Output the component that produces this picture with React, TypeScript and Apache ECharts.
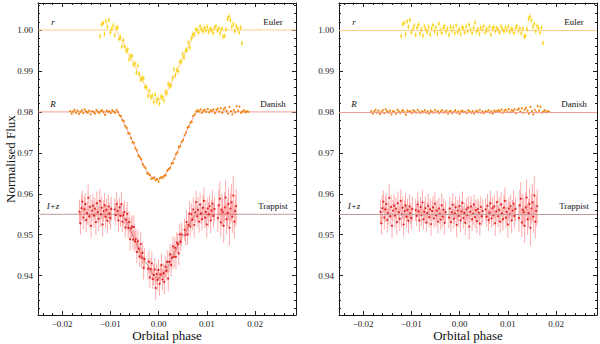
import React, { useEffect, useRef } from "react";
import * as echarts from "echarts";

// ---------- axis ranges ----------
const X_MIN = -0.025;
const X_MAX = 0.0285;
const Y_MIN = 0.9304;
const Y_MAX = 1.0066;

// ---------- Euler (r band) ----------
const eulerPhase = [-0.0121,-0.0118,-0.0115,-0.0112,-0.0109,-0.0106,-0.0103,-0.0100,-0.0097,-0.0094,-0.0091,-0.0088,-0.0085,-0.0082,-0.0079,-0.0076,-0.0073,-0.0070,-0.0067,-0.0064,-0.0061,-0.0058,-0.0055,-0.0052,-0.0049,-0.0046,-0.0043,-0.0040,-0.0037,-0.0034,-0.0031,-0.0028,-0.0025,-0.0022,-0.0019,-0.0016,-0.0013,-0.0010,-0.0007,-0.0004,-0.0001,0.0002,0.0005,0.0008,0.0011,0.0014,0.0017,0.0020,0.0023,0.0026,0.0029,0.0032,0.0035,0.0038,0.0041,0.0044,0.0047,0.0050,0.0053,0.0056,0.0059,0.0062,0.0065,0.0068,0.0071,0.0074,0.0077,0.0080,0.0083,0.0086,0.0089,0.0092,0.0095,0.0098,0.0101,0.0104,0.0107,0.0110,0.0113,0.0116,0.0119,0.0122,0.0125,0.0128,0.0131,0.0134,0.0137,0.0140,0.0143,0.0146,0.0149,0.0152,0.0155,0.0158,0.0161,0.0164,0.0167,0.0170,0.0173];
const eulerFlux = [0.9985,1.0014,1.0017,0.9990,1.0021,1.0008,1.0024,0.9994,1.0003,1.0011,0.9988,1.0005,1.0006,0.9978,0.9982,0.9959,0.9975,0.9960,0.9948,0.9953,0.9928,0.9936,0.9937,0.9916,0.9918,0.9896,0.9913,0.9892,0.9878,0.9883,0.9881,0.9860,0.9861,0.9839,0.9852,0.9835,0.9840,0.9824,0.9842,0.9825,0.9832,0.9820,0.9838,0.9836,0.9828,0.9850,0.9845,0.9869,0.9864,0.9864,0.9883,0.9904,0.9889,0.9903,0.9899,0.9922,0.9923,0.9941,0.9932,0.9949,0.9951,0.9969,0.9957,0.9980,0.9990,0.9988,1.0001,1.0001,0.9994,1.0009,1.0002,0.9996,1.0006,0.9999,1.0008,0.9995,1.0003,1.0000,0.9993,1.0005,1.0010,0.9998,1.0004,0.9992,1.0003,0.9984,0.9986,1.0002,1.0027,1.0033,1.0024,1.0008,1.0015,0.9997,1.0010,1.0004,0.9994,1.0006,0.9968];
const eulerResid = [0.9985,1.0014,1.0017,0.9990,1.0021,1.0008,1.0024,0.9994,1.0003,1.0011,0.9988,1.0005,1.0013,0.9992,1.0002,0.9986,1.0009,1.0001,0.9995,1.0007,0.9989,1.0004,1.0012,0.9997,1.0006,0.9991,1.0015,1.0000,0.9993,1.0005,1.0010,0.9996,1.0003,0.9988,1.0008,0.9998,1.0006,0.9992,1.0011,0.9995,1.0002,0.9990,1.0007,1.0004,0.9994,1.0009,0.9997,1.0013,1.0001,0.9993,1.0005,1.0018,0.9996,1.0002,0.9991,1.0006,1.0000,1.0010,0.9994,1.0003,0.9998,1.0008,0.9989,1.0004,1.0007,0.9997,1.0005,1.0001,0.9994,1.0009,1.0002,0.9996,1.0006,0.9999,1.0008,0.9995,1.0003,1.0000,0.9993,1.0005,1.0010,0.9998,1.0004,0.9992,1.0003,0.9984,0.9986,1.0002,1.0027,1.0033,1.0024,1.0008,1.0015,0.9997,1.0010,1.0004,0.9994,1.0006,0.9968];
const eulerErr = 0.0007;
const eulerModelPhase = [X_MIN,-0.0088,-0.0073,-0.0058,-0.0043,-0.0028,-0.0016,-0.0010,-0.0001,0.0008,0.0014,0.0029,0.0044,0.0059,0.0071,0.0077,0.0080,X_MAX];
const eulerModelFlux = [1.0,1.0,0.9966,0.9932,0.9898,0.9864,0.9837,0.9832,0.9830,0.9832,0.9841,0.9878,0.9916,0.9953,0.9983,0.9996,1.0,1.0];
const eulerBase = 1.0;

// ---------- Danish (R band) ----------
const danishPhase = [-0.0183,-0.0180,-0.0177,-0.0174,-0.0171,-0.0168,-0.0165,-0.0162,-0.0159,-0.0156,-0.0153,-0.0150,-0.0147,-0.0144,-0.0141,-0.0138,-0.0135,-0.0132,-0.0129,-0.0126,-0.0123,-0.0120,-0.0117,-0.0114,-0.0111,-0.0108,-0.0105,-0.0102,-0.0099,-0.0096,-0.0093,-0.0090,-0.0087,-0.0084,-0.0081,-0.0078,-0.0075,-0.0072,-0.0069,-0.0066,-0.0063,-0.0060,-0.0057,-0.0054,-0.0051,-0.0048,-0.0045,-0.0042,-0.0039,-0.0036,-0.0033,-0.0030,-0.0027,-0.0024,-0.0021,-0.0018,-0.0015,-0.0012,-0.0009,-0.0006,-0.0003,0.0000,0.0003,0.0006,0.0009,0.0012,0.0015,0.0018,0.0021,0.0024,0.0027,0.0030,0.0033,0.0036,0.0039,0.0042,0.0045,0.0048,0.0051,0.0054,0.0057,0.0060,0.0063,0.0066,0.0069,0.0072,0.0075,0.0078,0.0081,0.0084,0.0087,0.0090,0.0093,0.0096,0.0099,0.0102,0.0105,0.0108,0.0111,0.0114,0.0117,0.0120,0.0123,0.0126,0.0129,0.0132,0.0135,0.0138,0.0141,0.0144,0.0147,0.0150,0.0153,0.0156,0.0159,0.0162,0.0165,0.0168,0.0171,0.0174,0.0177,0.0180,0.0183,0.0186];
const danishFlux = [0.9802,0.9796,0.9801,0.9805,0.9798,0.9803,0.9795,0.9800,0.9804,0.9797,0.9806,0.9801,0.9798,0.9803,0.9794,0.9802,0.9800,0.9796,0.9805,0.9801,0.9797,0.9802,0.9804,0.9799,0.9793,0.9803,0.9800,0.9802,0.9797,0.9804,0.9801,0.9798,0.9805,0.9800,0.9792,0.9790,0.9780,0.9778,0.9765,0.9761,0.9748,0.9747,0.9736,0.9726,0.9725,0.9711,0.9706,0.9693,0.9690,0.9685,0.9672,0.9667,0.9663,0.9650,0.9649,0.9646,0.9637,0.9638,0.9640,0.9633,0.9636,0.9630,0.9638,0.9641,0.9639,0.9644,0.9645,0.9657,0.9660,0.9663,0.9674,0.9675,0.9686,0.9697,0.9701,0.9715,0.9716,0.9727,0.9731,0.9744,0.9750,0.9762,0.9764,0.9774,0.9776,0.9790,0.9794,0.9801,0.9804,0.9801,0.9806,0.9798,0.9803,0.9805,0.9800,0.9807,0.9799,0.9804,0.9802,0.9806,0.9797,0.9805,0.9808,0.9801,0.9809,0.9798,0.9806,0.9810,0.9803,0.9796,0.9812,0.9802,0.9794,0.9805,0.9799,0.9814,0.9803,0.9813,0.9798,0.9801,0.9804,0.9799,0.9802,0.9800];
const danishResid = [0.9802,0.9796,0.9801,0.9805,0.9798,0.9803,0.9795,0.9800,0.9804,0.9797,0.9806,0.9801,0.9798,0.9803,0.9794,0.9802,0.9800,0.9796,0.9805,0.9801,0.9797,0.9802,0.9804,0.9799,0.9793,0.9803,0.9800,0.9802,0.9797,0.9804,0.9801,0.9798,0.9805,0.9800,0.9797,0.9802,0.9799,0.9804,0.9798,0.9801,0.9796,0.9803,0.9800,0.9798,0.9805,0.9799,0.9802,0.9797,0.9801,0.9804,0.9798,0.9800,0.9803,0.9796,0.9801,0.9802,0.9797,0.9800,0.9804,0.9798,0.9801,0.9795,0.9802,0.9803,0.9799,0.9800,0.9797,0.9804,0.9801,0.9798,0.9802,0.9796,0.9800,0.9803,0.9799,0.9805,0.9798,0.9801,0.9797,0.9802,0.9800,0.9804,0.9798,0.9801,0.9796,0.9803,0.9800,0.9802,0.9804,0.9801,0.9806,0.9798,0.9803,0.9805,0.9800,0.9807,0.9799,0.9804,0.9802,0.9806,0.9797,0.9805,0.9808,0.9801,0.9809,0.9798,0.9806,0.9810,0.9803,0.9796,0.9812,0.9802,0.9794,0.9805,0.9799,0.9814,0.9803,0.9813,0.9798,0.9801,0.9804,0.9799,0.9802,0.9800];
const danishErr = 0.00025;
const danishModelPhase = [X_MIN,-0.0084,-0.0075,-0.0060,-0.0045,-0.0030,-0.0018,-0.0009,0.0000,0.0012,0.0024,0.0039,0.0051,0.0066,0.0075,0.0081,X_MAX];
const danishModelFlux = [0.98,0.98,0.9781,0.9744,0.9704,0.9667,0.9644,0.9636,0.9635,0.9644,0.9665,0.9702,0.9734,0.9773,0.9794,0.98,0.98];
const danishBase = 0.98;

// ---------- Trappist (I+z band) ----------
const trappistPhase = [-0.0164,-0.0162,-0.0160,-0.0158,-0.0156,-0.0154,-0.0152,-0.0150,-0.0148,-0.0146,-0.0144,-0.0142,-0.0140,-0.0138,-0.0136,-0.0134,-0.0132,-0.0130,-0.0128,-0.0126,-0.0124,-0.0122,-0.0120,-0.0118,-0.0116,-0.0114,-0.0112,-0.0110,-0.0108,-0.0106,-0.0104,-0.0102,-0.0100,-0.0098,
-0.0091,-0.0089,-0.0087,-0.0085,-0.0083,-0.0081,-0.0079,-0.0077,-0.0075,-0.0073,-0.0071,-0.0069,-0.0067,-0.0065,-0.0063,-0.0061,-0.0059,-0.0057,-0.0055,-0.0053,-0.0051,-0.0049,-0.0047,-0.0045,-0.0043,-0.0041,-0.0039,-0.0037,-0.0035,-0.0033,-0.0031,-0.0029,
-0.0022,-0.0020,-0.0018,-0.0016,-0.0014,-0.0012,-0.0010,-0.0008,-0.0006,-0.0004,-0.0002,0.0000,0.0002,0.0004,0.0006,0.0008,0.0010,0.0012,0.0014,0.0016,0.0018,0.0020,0.0022,0.0024,0.0026,0.0028,0.0030,0.0032,0.0034,0.0036,0.0038,0.0040,0.0042,0.0044,0.0046,0.0048,
0.0054,0.0056,0.0058,0.0060,0.0062,0.0064,0.0066,0.0068,0.0070,0.0072,0.0074,0.0076,0.0078,0.0080,0.0082,0.0084,0.0086,0.0088,0.0090,0.0092,0.0094,0.0096,0.0098,0.0100,0.0102,0.0104,0.0106,0.0108,0.0110,0.0112,0.0114,0.0116,
0.0123,0.0125,0.0127,0.0129,0.0131,0.0133,0.0135,0.0137,0.0139,0.0141,0.0143,0.0145,0.0147,0.0149,0.0151,0.0153,0.0155,0.0157,0.0159,0.0161];
const trappistFlux = [0.9556,0.9528,0.9565,0.9581,0.9542,0.9562,0.9575,0.9536,0.9553,0.9590,0.9545,0.9568,0.9522,0.9559,0.9571,0.9547,0.9564,0.9531,0.9577,0.9555,0.9539,0.9583,0.9550,0.9566,0.9525,0.9558,0.9572,0.9544,0.9561,0.9534,0.9569,0.9552,0.9541,0.9563,
0.9562,0.9548,0.9575,0.9558,0.9535,0.9567,0.9546,0.9575,0.9532,0.9548,0.9555,0.9518,0.9537,0.9551,0.9517,0.9531,0.9489,0.9516,0.9520,0.9488,0.9519,0.9484,0.9490,0.9458,0.9484,0.9466,0.9447,0.9477,0.9444,0.9456,0.9419,0.9441,
0.9417,0.9434,0.9396,0.9416,0.9430,0.9392,0.9402,0.9415,0.9370,0.9404,0.9390,0.9414,0.9380,0.9403,0.9426,0.9391,0.9406,0.9385,0.9422,0.9412,0.9434,0.9393,0.9434,0.9452,0.9426,0.9444,0.9472,0.9446,0.9468,0.9446,0.9481,0.9477,0.9455,0.9501,0.9483,0.9501,
0.9512,0.9499,0.9531,0.9501,0.9524,0.9552,0.9520,0.9550,0.9537,0.9562,0.9524,0.9555,0.9580,0.9545,0.9561,0.9532,0.9574,0.9552,0.9538,0.9566,0.9583,0.9542,0.9556,0.9525,0.9564,0.9550,0.9570,0.9535,0.9559,0.9576,0.9546,0.9563,
0.9541,0.9572,0.9588,0.9530,0.9561,0.9555,0.9522,0.9567,0.9591,0.9538,0.9553,0.9575,0.9517,0.9564,0.9579,0.9544,0.9596,0.9532,0.9558,0.9570];
const trappistResid = [0.9556,0.9528,0.9565,0.9581,0.9542,0.9562,0.9575,0.9536,0.9553,0.9590,0.9545,0.9568,0.9522,0.9559,0.9571,0.9547,0.9564,0.9531,0.9577,0.9555,0.9539,0.9583,0.9550,0.9566,0.9525,0.9558,0.9572,0.9544,0.9561,0.9534,0.9569,0.9552,0.9541,0.9563,
0.9560,0.9546,0.9574,0.9557,0.9535,0.9568,0.9548,0.9579,0.9538,0.9556,0.9565,0.9530,0.9553,0.9571,0.9543,0.9562,0.9526,0.9558,0.9567,0.9540,0.9576,0.9547,0.9559,0.9532,0.9564,0.9551,0.9537,0.9572,0.9544,0.9561,0.9529,0.9555,
0.9542,0.9564,0.9531,0.9555,0.9573,0.9539,0.9552,0.9567,0.9524,0.9559,0.9546,0.9570,0.9535,0.9557,0.9578,0.9541,0.9553,0.9529,0.9562,0.9548,0.9566,0.9520,0.9556,0.9569,0.9538,0.9551,0.9574,0.9543,0.9560,0.9533,0.9563,0.9554,0.9527,0.9568,0.9545,0.9558,
0.9562,0.9544,0.9571,0.9536,0.9554,0.9577,0.9540,0.9565,0.9548,0.9569,0.9528,0.9557,0.9580,0.9545,0.9561,0.9532,0.9574,0.9552,0.9538,0.9566,0.9583,0.9542,0.9556,0.9525,0.9564,0.9550,0.9570,0.9535,0.9559,0.9576,0.9546,0.9563,
0.9541,0.9572,0.9588,0.9530,0.9561,0.9555,0.9522,0.9567,0.9591,0.9538,0.9553,0.9575,0.9517,0.9564,0.9579,0.9544,0.9596,0.9532,0.9558,0.9570];
const trappistErr = [0.0030,0.0028,0.0032,0.0027,0.0029,0.0031,0.0026,0.0030,0.0028,0.0033,0.0027,0.0029,0.0031,0.0026,0.0028,0.0030,0.0027,0.0032,0.0029,0.0026,0.0030,0.0028,0.0031,0.0027,0.0029,0.0026,0.0030,0.0028,0.0027,0.0031,0.0029,0.0026,0.0028,0.0030,
0.0027,0.0025,0.0029,0.0026,0.0028,0.0024,0.0027,0.0030,0.0025,0.0026,0.0028,0.0024,0.0027,0.0029,0.0025,0.0026,0.0028,0.0025,0.0027,0.0024,0.0029,0.0026,0.0025,0.0028,0.0027,0.0024,0.0026,0.0029,0.0025,0.0027,0.0028,0.0026,
0.0026,0.0028,0.0025,0.0027,0.0029,0.0024,0.0026,0.0028,0.0030,0.0025,0.0027,0.0026,0.0029,0.0024,0.0028,0.0026,0.0025,0.0030,0.0027,0.0024,0.0028,0.0031,0.0026,0.0025,0.0029,0.0027,0.0024,0.0028,0.0026,0.0030,0.0025,0.0027,0.0029,0.0026,0.0024,0.0028,
0.0027,0.0025,0.0029,0.0026,0.0028,0.0030,0.0024,0.0027,0.0026,0.0029,0.0031,0.0025,0.0028,0.0026,0.0030,0.0027,0.0029,0.0025,0.0028,0.0031,0.0033,0.0026,0.0029,0.0032,0.0027,0.0030,0.0028,0.0031,0.0026,0.0033,0.0029,0.0030,
0.0034,0.0038,0.0041,0.0035,0.0039,0.0036,0.0042,0.0037,0.0044,0.0038,0.0035,0.0040,0.0043,0.0037,0.0045,0.0039,0.0048,0.0041,0.0038,0.0042];
const trappistModelPhase = [X_MIN,-0.0084,-0.0077,-0.0069,-0.0065,-0.0059,-0.0049,-0.0039,-0.0029,-0.0022,-0.0014,-0.0006,0.0000,0.0006,0.0014,0.0024,0.0036,0.0048,0.0058,0.0066,0.0072,0.0078,X_MAX];
const trappistModelFlux = [0.955,0.955,0.9546,0.9538,0.9530,0.9513,0.9487,0.9460,0.9436,0.9425,0.9407,0.9396,0.9394,0.9398,0.9410,0.9433,0.9463,0.9493,0.9510,0.9530,0.9543,0.955,0.955];
const trappistBase = 0.955;

// ---------- labels ----------
const bandLabels = ["r", "R", "I+z"];
const telescopeLabels = ["Euler", "Danish", "Trappist"];
const xAxisTitle = "Orbital phase";
const yAxisTitle = "Normalised Flux";

const FONT = '"Liberation Serif", "Times New Roman", serif';

const COLORS = {
  euler: { pt: "#f5c800", err: "rgba(255,222,40,0.75)", line: "#ffcf8a" },
  danish: { pt: "#ee7a00", err: "rgba(255,150,40,0.8)", line: "#f29c98" },
  trappist: { pt: "#d80000", err: "rgba(255,70,70,0.45)", line: "#c09a9a" },
};

const GRIDS = [
  { left: 38, top: 3, width: 258, height: 312 },
  { left: 339, top: 3, width: 258, height: 312 },
];

function fmtX(v: number) {
  const r = Math.round(v * 100);
  if (Math.abs(v * 100 - r) > 1e-6) return "";
  const s = Math.abs(v).toFixed(2);
  return r < 0 ? "\u2212" + s : s;
}
function fmtY(v: number) {
  const r = Math.round(v * 100);
  if (Math.abs(v * 100 - r) > 1e-6) return "";
  return v.toFixed(2);
}

function makeAxes(gi: number) {
  const tick = { show: true, inside: true, length: 4, lineStyle: { color: "#222", width: 1 } };
  const minor = { show: true, splitNumber: 5, length: 2, lineStyle: { color: "#222", width: 1 } };
  const line = { show: true, onZero: false, lineStyle: { color: "#111", width: 1 } };
  const xs = [
    {
      type: "value", gridIndex: gi, position: "bottom", min: X_MIN, max: X_MAX, splitNumber: 5,
      axisLine: line, axisTick: tick, minorTick: minor, splitLine: { show: false },
      axisLabel: { show: true, fontFamily: FONT, fontSize: 9, color: "#222", margin: 4, showMinLabel: false, showMaxLabel: false, formatter: fmtX },
    },
    {
      type: "value", gridIndex: gi, position: "top", min: X_MIN, max: X_MAX, splitNumber: 5,
      axisLine: line, axisTick: tick, minorTick: minor, splitLine: { show: false },
      axisLabel: { show: false },
    },
  ];
  const ys = [
    {
      type: "value", gridIndex: gi, position: "left", min: Y_MIN, max: Y_MAX, splitNumber: 8,
      axisLine: line, axisTick: tick, minorTick: minor, splitLine: { show: false },
      axisLabel: { show: true, fontFamily: FONT, fontSize: 9, color: "#222", margin: 5, showMinLabel: false, showMaxLabel: false, formatter: fmtY },
    },
    {
      type: "value", gridIndex: gi, position: "right", min: Y_MIN, max: Y_MAX, splitNumber: 8,
      axisLine: line, axisTick: tick, minorTick: minor, splitLine: { show: false },
      axisLabel: { show: false },
    },
  ];
  return { xs, ys };
}

function errorBars(axis: number, phase: number[], flux: number[], err: number | number[], color: string, width: number) {
  return {
    type: "custom",
    xAxisIndex: axis,
    yAxisIndex: axis,
    silent: true,
    z: 3,
    encode: { x: 0, y: 1 },
    data: phase.map((p, i) => [p, flux[i], typeof err === "number" ? err : err[i]]),
    renderItem: (_params: any, api: any) => {
      const x = api.value(0);
      const y = api.value(1);
      const e = api.value(2);
      const a = api.coord([x, y - e]);
      const b = api.coord([x, y + e]);
      return {
        type: "line",
        shape: { x1: a[0], y1: a[1], x2: b[0], y2: b[1] },
        style: { stroke: color, lineWidth: width },
      };
    },
  };
}

function points(axis: number, phase: number[], flux: number[], color: string, size: number) {
  return {
    type: "scatter",
    xAxisIndex: axis,
    yAxisIndex: axis,
    silent: true,
    z: 4,
    symbol: "circle",
    symbolSize: size,
    itemStyle: { color },
    data: phase.map((p, i) => [p, flux[i]]),
  };
}

function modelLine(axis: number, phase: number[], flux: number[], color: string) {
  return {
    type: "line",
    xAxisIndex: axis,
    yAxisIndex: axis,
    silent: true,
    z: 2,
    showSymbol: false,
    symbol: "none",
    lineStyle: { color, width: 1 },
    data: phase.map((p, i) => [p, flux[i]]),
  };
}

function baseLine(axis: number, value: number, color: string) {
  return {
    type: "line",
    xAxisIndex: axis,
    yAxisIndex: axis,
    silent: true,
    z: 2,
    data: [],
    markLine: {
      silent: true,
      symbol: "none",
      precision: 5,
      label: { show: false },
      lineStyle: { color, width: 1, type: "solid" },
      data: [{ yAxis: value }],
    },
  };
}

export default function App() {
  const ref = useRef<HTMLDivElement>(null);
  useEffect(() => {
    if (!ref.current) return;
    const chart = echarts.init(ref.current, undefined, { renderer: "svg" });
    const a0 = makeAxes(0);
    const a1 = makeAxes(1);
    const L = 0;
    const R = 2;
    const series: any[] = [
      modelLine(L, eulerModelPhase, eulerModelFlux, COLORS.euler.line),
      modelLine(L, danishModelPhase, danishModelFlux, COLORS.danish.line),
      modelLine(L, trappistModelPhase, trappistModelFlux, COLORS.trappist.line),
      errorBars(L, trappistPhase, trappistFlux, trappistErr, COLORS.trappist.err, 1),
      errorBars(L, eulerPhase, eulerFlux, eulerErr, COLORS.euler.err, 1),
      errorBars(L, danishPhase, danishFlux, danishErr, COLORS.danish.err, 1),
      points(L, trappistPhase, trappistFlux, COLORS.trappist.pt, 2.2),
      points(L, eulerPhase, eulerFlux, COLORS.euler.pt, 2.2),
      points(L, danishPhase, danishFlux, COLORS.danish.pt, 2.2),
      baseLine(R, eulerBase, COLORS.euler.line),
      baseLine(R, danishBase, COLORS.danish.line),
      baseLine(R, trappistBase, COLORS.trappist.line),
      errorBars(R, trappistPhase, trappistResid, trappistErr, COLORS.trappist.err, 1),
      errorBars(R, eulerPhase, eulerResid, eulerErr, COLORS.euler.err, 1),
      errorBars(R, danishPhase, danishResid, danishErr, COLORS.danish.err, 1),
      points(R, trappistPhase, trappistResid, COLORS.trappist.pt, 2.2),
      points(R, eulerPhase, eulerResid, COLORS.euler.pt, 2.2),
      points(R, danishPhase, danishResid, COLORS.danish.pt, 2.2),
    ];

    const labelY = [22, 104, 206];
    const graphics: any[] = [];
    GRIDS.forEach((g) => {
      bandLabels.forEach((t, i) => {
        graphics.push({
          type: "text",
          x: g.left + 15,
          y: labelY[i],
          silent: true,
          style: { text: t, fontFamily: FONT, fontSize: 9, fontStyle: "italic", fill: "#111", align: "center", verticalAlign: "middle" },
        });
      });
      telescopeLabels.forEach((t, i) => {
        graphics.push({
          type: "text",
          x: g.left + 235,
          y: labelY[i],
          silent: true,
          style: { text: t, fontFamily: FONT, fontSize: 9, fill: "#111", align: "center", verticalAlign: "middle" },
        });
      });
      // x axis title
      graphics.push({
        type: "text",
        x: g.left + g.width / 2,
        y: 335,
        silent: true,
        style: { text: xAxisTitle, fontFamily: FONT, fontSize: 13, fill: "#111", align: "center", verticalAlign: "middle" },
      });
    });
    // y axis title
    graphics.push({
      type: "text",
      x: 10,
      y: GRIDS[0].top + GRIDS[0].height / 2,
      rotation: Math.PI / 2,
      silent: true,
      style: { text: yAxisTitle, fontFamily: FONT, fontSize: 13, fill: "#111", align: "center", verticalAlign: "middle" },
    });

    chart.setOption({
      animation: false,
      backgroundColor: "#ffffff",
      grid: GRIDS.map((g) => ({ ...g, containLabel: false, outerBoundsMode: "none" })),
      xAxis: [...a0.xs, ...a1.xs],
      yAxis: [...a0.ys, ...a1.ys],
      series,
      graphic: graphics,
    });
    return () => chart.dispose();
  }, []);
  return (
    <div
      ref={ref}
      style={{ position: "fixed", left: 0, top: 0, width: 600, height: 344, background: "#fff" }}
    />
  );
}
